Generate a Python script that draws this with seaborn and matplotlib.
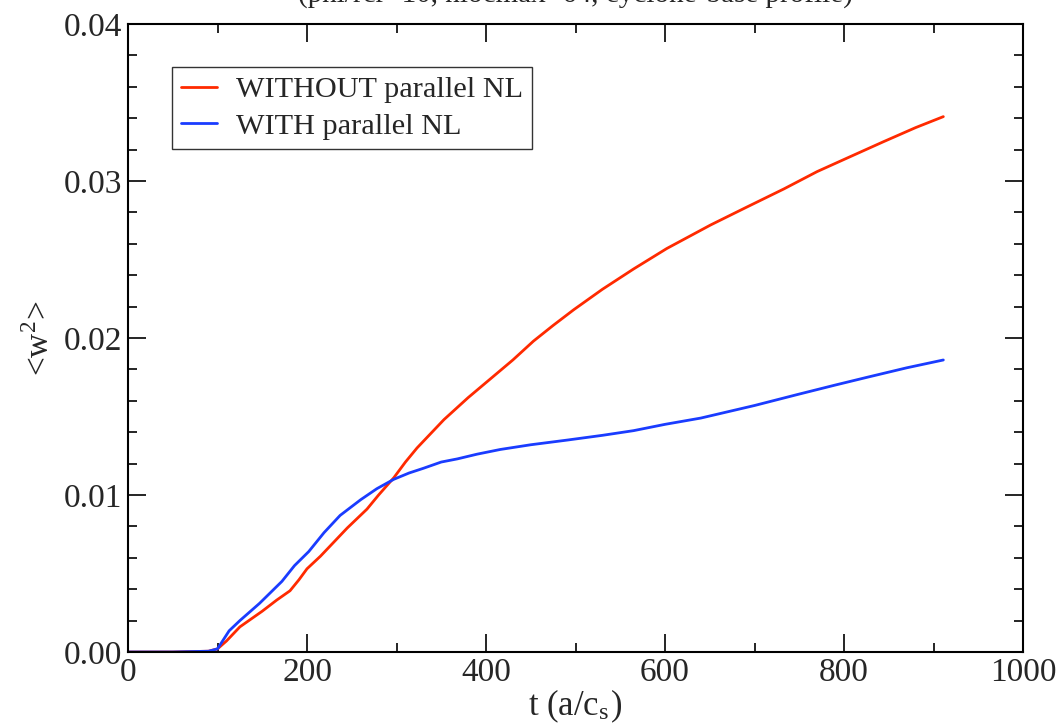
import numpy as np
import pandas as pd
import matplotlib
matplotlib.use("Agg")
import matplotlib.pyplot as plt
from matplotlib.ticker import MultipleLocator, FormatStrFormatter
import seaborn as sns

# ---- data ----
t_without = [0, 50, 90, 100, 110, 125, 150, 166, 181, 191, 200, 215, 230, 245, 267, 280,
             297, 310, 323, 338, 353, 380, 405, 430, 453, 475, 498, 530, 565, 602, 651,
             690, 733, 770, 805, 844, 880, 911]
w2_without = [0.0, 0.0, 0.00005, 0.0002, 0.0007, 0.0016, 0.0026, 0.0033, 0.0039, 0.0046,
              0.0053, 0.0061, 0.0070, 0.0079, 0.0091, 0.0100, 0.0111, 0.0121, 0.0130,
              0.0139, 0.0148, 0.0162, 0.0174, 0.0186, 0.0198, 0.0208, 0.0218, 0.0231,
              0.0244, 0.0257, 0.0272, 0.0283, 0.0295, 0.0306, 0.0315, 0.0325, 0.0334,
              0.0341]

t_with = [0, 50, 90, 100, 113, 125, 147, 172, 186, 202, 219, 237, 260, 278, 297, 314,
          330, 350, 368, 390, 416, 450, 491, 530, 565, 600, 640, 700, 748, 790, 826, 870,
          911]
w2_with = [0.0, 0.0, 0.00005, 0.0002, 0.00135, 0.0020, 0.0031, 0.0045, 0.0055, 0.0064,
           0.0076, 0.0087, 0.0097, 0.0104, 0.0110, 0.0114, 0.0117, 0.0121, 0.0123, 0.0126,
           0.0129, 0.0132, 0.0135, 0.0138, 0.0141, 0.0145, 0.0149, 0.0157, 0.0164, 0.0170,
           0.0175, 0.0181, 0.0186]

series_names = ["WITHOUT parallel NL", "WITH parallel NL"]
colors = {"WITHOUT parallel NL": "#ff2a00", "WITH parallel NL": "#1a3cff"}

df = pd.concat([
    pd.DataFrame({"t": t_without, "w2": w2_without, "case": series_names[0]}),
    pd.DataFrame({"t": t_with, "w2": w2_with, "case": series_names[1]}),
])

sns.set_theme(style="white")
plt.rcParams["font.family"] = ["Liberation Serif", "DejaVu Serif"]
plt.rcParams["mathtext.fontset"] = "stix"

fig = plt.figure(figsize=(10.62, 7.27), dpi=100)
ax = fig.add_axes([128 / 1062, 1 - 652 / 727, (1023 - 128) / 1062, (652 - 24) / 727])

sns.lineplot(data=df, x="t", y="w2", hue="case", hue_order=series_names,
             palette=colors, estimator=None, sort=False, linewidth=2.0, ax=ax)

ax.set_xlim(0, 1000)
ax.set_ylim(0, 0.04)
ax.xaxis.set_major_locator(MultipleLocator(200))
ax.xaxis.set_minor_locator(MultipleLocator(100))
ax.yaxis.set_major_locator(MultipleLocator(0.01))
ax.yaxis.set_minor_locator(MultipleLocator(0.002))
ax.yaxis.set_major_formatter(FormatStrFormatter("%.2f"))
ax.xaxis.set_major_formatter(FormatStrFormatter("%d"))

ax.tick_params(which="both", direction="in", top=True, right=True, bottom=True, left=True,
               width=1.2, color="black", labelsize=24, pad=4)
ax.tick_params(which="major", length=13)
ax.tick_params(which="minor", length=6.5)
for s in ax.spines.values():
    s.set_linewidth(1.5)
    s.set_color("black")
ax.grid(False)

ax.set_xlabel("t (a/c$_\\mathregular{s}$)", fontsize=25, labelpad=0)
ax.set_ylabel("<w$^\\mathregular{2}$>", fontsize=24, labelpad=6)

leg = ax.legend(loc="upper left", bbox_to_anchor=((172 - 128) / 895, (652 - 67) / 628),
                fontsize=21.8, frameon=True, fancybox=False, edgecolor="black",
                handlelength=1.2, handletextpad=0.6, borderpad=0.3, labelspacing=0.3,
                borderaxespad=0)
leg.get_frame().set_linewidth(1.0)
for line in leg.get_lines():
    line.set_linewidth(2.0)

fig.text(575.5 / 1062, 0.996, "(phi/rcr=10, nlocmax=64, cyclone-base profile)",
         ha="center", va="baseline", fontsize=21)

fig.savefig("out.png", dpi=100, facecolor="white")
